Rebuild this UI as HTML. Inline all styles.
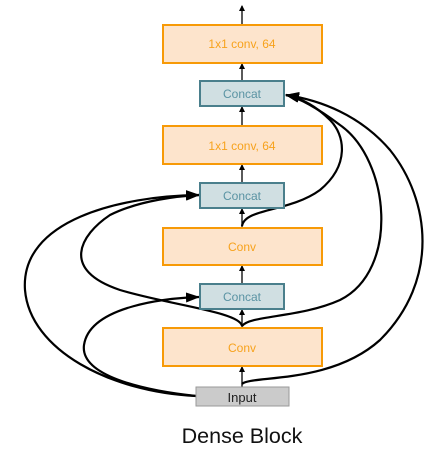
<!DOCTYPE html>
<html><head><style>
body{margin:0;background:#fff;}
svg{display:block}
text{font-family:"Liberation Sans",sans-serif;}
</style></head><body>
<svg width="435" height="469" viewBox="0 0 435 469">
<defs>
<marker id="s" markerWidth="6" markerHeight="6" refX="5" refY="3" orient="auto" markerUnits="userSpaceOnUse"><path d="M0,0L6,3L0,6z" fill="#000"/></marker>
<marker id="b" markerWidth="14" markerHeight="10" refX="13" refY="5" orient="auto" markerUnits="userSpaceOnUse"><path d="M0,0L14,5L0,10z" fill="#000"/></marker>
</defs>
<g stroke="#000" stroke-width="1.3" marker-end="url(#s)">
<line x1="242" y1="25" x2="242" y2="6"/>
<line x1="242" y1="81" x2="242" y2="64"/>
<line x1="242" y1="126" x2="242" y2="107"/>
<line x1="242" y1="183" x2="242" y2="165"/>
<line x1="242" y1="228" x2="242" y2="209"/>
<line x1="242" y1="284" x2="242" y2="266"/>
<line x1="242" y1="328" x2="242" y2="310"/>
<line x1="242" y1="387" x2="242" y2="367"/>
</g>
<g fill="none" stroke="#000" stroke-width="2.2" marker-end="url(#b)">
<path d="M196,396 C110,392 30,350 25,290 C20,220 120,196 199,195"/>
<path d="M196,396 C140,390 80,375 84,345 C90,305 170,298 199,297"/>
<path d="M242,326 C240,312 170,305 120,290 C60,270 80,235 110,215 C140,200 180,196 199,195"/>
<path d="M242,326 C250,315 300,318 340,300 C400,270 390,160 340,125 C320,110 300,98 286,95"/>
<path d="M242,384 C250,375 330,385 380,340 C440,280 430,200 390,150 C360,115 320,100 286,95"/>
<path d="M242,226 C245,208 290,212 320,190 C350,165 345,135 330,120 C315,105 300,98 286,95"/>
</g>
<g stroke="#f79a07" stroke-width="2" fill="#fde4cc">
<rect x="163" y="25" width="159" height="38"/>
<rect x="163" y="126" width="159" height="38"/>
<rect x="163" y="228" width="159" height="37"/>
<rect x="163" y="328" width="159" height="38"/>
</g>
<g stroke="#4a7f8c" stroke-width="2" fill="#d0dfe2">
<rect x="200" y="81" width="84" height="25"/>
<rect x="200" y="183" width="84" height="25"/>
<rect x="200" y="284" width="84" height="25"/>
</g>
<rect x="196" y="387" width="93" height="19" fill="#cbcbcb" stroke="#999" stroke-width="1"/>
<g font-size="12" text-anchor="middle" fill="#f7a21c">
<text x="242" y="48">1x1 conv, 64</text>
<text x="242" y="150">1x1 conv, 64</text>
<text x="242" y="251">Conv</text>
<text x="242" y="352">Conv</text>
</g>
<g font-size="12" text-anchor="middle" fill="#5a93a3">
<text x="242" y="98">Concat</text>
<text x="242" y="200">Concat</text>
<text x="242" y="301">Concat</text>
</g>
<text x="242" y="402" font-size="13" text-anchor="middle" fill="#222">Input</text>
<text x="242" y="443" font-size="21.5" text-anchor="middle" fill="#111">Dense Block</text>
</svg>
</body></html>
